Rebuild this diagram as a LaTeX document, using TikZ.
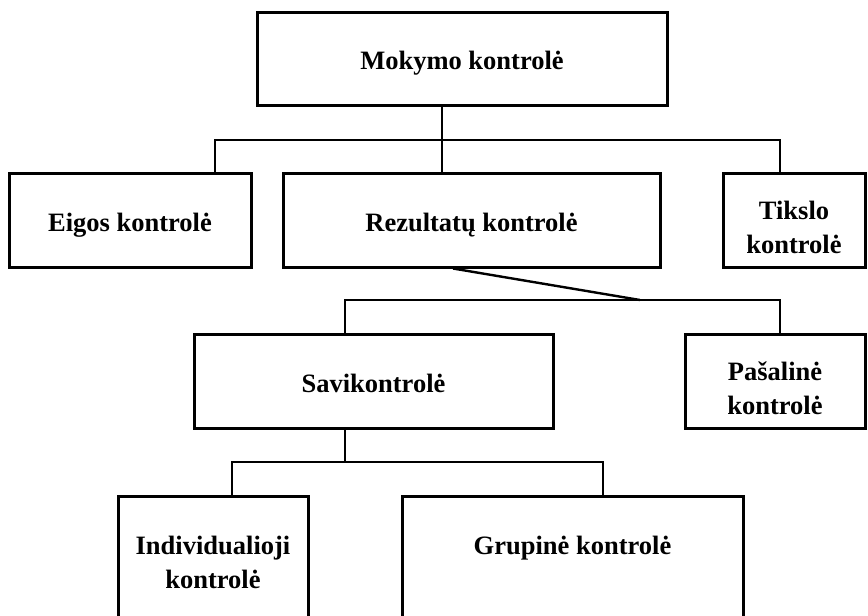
\documentclass[tikz,border=0pt]{standalone}
\usepackage{fontspec}
\setmainfont{Liberation Serif}
\begin{document}
\begin{tikzpicture}[
        x=1pt, y=-1pt,
        every node/.style={draw, rectangle, line width=3pt, inner sep=0pt, align=center,
            font=\fontsize{26.5}{34}\selectfont\bfseries},
        box/.style={minimum height=94pt, text height=22pt, text depth=0pt},
        twoline/.style={text height=66pt, text depth=0pt},
        openbox/.style={anchor=north, inner ysep=40pt, text depth=130pt},
        link/.style={draw, line width=2.4pt}
        ]
    \clip (0,0) rectangle (868,616);
    % boxes
    \node[box, minimum width=410pt, minimum height=93pt] (mokymo) at (462,58.5) {Mokymo kontrolė};
    \node[box, minimum width=242pt] (eigos) at (130,220) {Eigos kontrolė};
    \node[box, minimum width=377pt] (rezult) at (471.5,220) {Rezultatų kontrolė};
    \node[box, twoline, minimum width=142pt] (tikslo) at (794,220) {Tikslo\\kontrolė};
    \node[box, minimum width=359pt] (savik) at (373.5,381) {Savikontrolė};
    \node[box, twoline, minimum width=180pt] (pasal) at (775,381) {Pašalinė\\kontrolė};
    \node[openbox, minimum width=190pt] (indiv) at (213,495) {Individualioji\\kontrolė};
    \node[openbox, minimum width=341pt] (grup) at (572.5,495) {Grupinė kontrolė};
    % junctions
    \coordinate (jA) at (215,140);
    \coordinate (jB) at (780,140);
    \coordinate (jM) at (442,140);
    \coordinate (jC) at (345,300);
    \coordinate (jD) at (780,300);
    \coordinate (jS) at (640,300);
    \coordinate (jE) at (232,462);
    \coordinate (jF) at (603,462);
    \coordinate (jK) at (345,462);
    % connectors
    \draw[link] (mokymo.south -| jM) -- (rezult.north -| jM);
    \draw[link] (eigos.north -| jA) -- (jA) -- (jB) -- (tikslo.north -| jB);
    \draw[link] (rezult.south -| 453,0) -- (jS);
    \draw[link] (savik.north -| jC) -- (jC) -- (jD) -- (pasal.north -| jD);
    \draw[link] (savik.south -| jK) -- (jK);
    \draw[link] (indiv.north -| jE) -- (jE) -- (jF) -- (grup.north -| jF);
\end{tikzpicture}
\end{document}
